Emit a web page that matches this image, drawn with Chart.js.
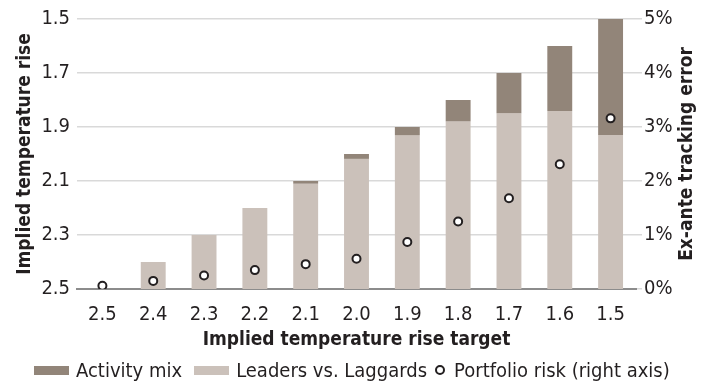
<!DOCTYPE html>
<html><head><meta charset="utf-8">
<script src="https://cdn.jsdelivr.net/npm/chart.js@4/dist/chart.umd.min.js"></script>
<style>
html,body{margin:0;padding:0;background:#fff;}
#wrap{position:relative;width:711px;height:383px;overflow:hidden;}
#legend{position:absolute;left:34px;top:357px;height:26px;display:flex;align-items:center;font-family:'DejaVu Sans Condensed',sans-serif;font-size:20px;color:#231f20;white-space:nowrap;}
.item{display:flex;align-items:center;margin-right:12px;}
.sw{display:inline-block;width:35px;height:9px;margin-right:7px;}
.dot{display:inline-block;width:6px;height:6px;border:2px solid #231f20;border-radius:50%;background:#fff;margin-right:9px;margin-left:-4px;}
</style></head><body>
<div id="wrap"><canvas id="c" width="711" height="383"></canvas><div id="legend"></div></div>
<script>
const categories = ['2.5','2.4','2.3','2.2','2.1','2.0','1.9','1.8','1.7','1.6','1.5'];
const leadersVsLaggards = [null, 2.40, 2.30, 2.20, 2.11, 2.018, 1.93, 1.879, 1.849, 1.841, 1.93];
const activityMix = [null, null, null, null, 2.10, 2.00, 1.90, 1.80, 1.70, 1.60, 1.50];
const portfolioRisk = [0.06, 0.15, 0.25, 0.35, 0.46, 0.56, 0.87, 1.25, 1.68, 2.31, 3.16];
const leftTicks = [1.5, 1.7, 1.9, 2.1, 2.3, 2.5];
const rightTicks = [0, 1, 2, 3, 4, 5];
const baseLevel = 2.5;
const seriesNames = ['Activity mix', 'Leaders vs. Laggards', 'Portfolio risk (right axis)'];
const axisTitles = {x: 'Implied temperature rise target', y: 'Implied temperature rise', y1: 'Ex-ante tracking error'};

const FONT = "'DejaVu Sans Condensed',sans-serif";
const TXT = '#231f20';
const DARK = '#928579';
const LIGHT = '#cbc1ba';
const GRID = '#d9d9d9';
const AXIS = '#8c8c8c';

const leadersData = leadersVsLaggards.map(v => v == null ? null : [baseLevel, v]);
const activityData = activityMix.map((v, i) => v == null ? null : [leadersVsLaggards[i], v]);

const rightTitle = {
  id: 'rightTitle',
  afterDraw(chart) {
    const ctx = chart.ctx, a = chart.chartArea;
    ctx.save();
    ctx.translate(687, (a.top + a.bottom) / 2);
    ctx.rotate(-Math.PI / 2);
    ctx.font = "bold 19px " + FONT;
    ctx.fillStyle = TXT;
    ctx.textAlign = 'center';
    ctx.textBaseline = 'middle';
    ctx.fillText(axisTitles.y1, 0, 0);
    ctx.restore();
  }
};

new Chart(document.getElementById('c'), {
  data: {
    labels: categories,
    datasets: [
      {type: 'line', label: seriesNames[2], data: portfolioRisk, yAxisID: 'y1', showLine: false,
       pointRadius: 4, pointBorderWidth: 2, pointBackgroundColor: '#fff', pointBorderColor: TXT, order: 0},
      {type: 'bar', label: seriesNames[0], data: activityData, yAxisID: 'y', backgroundColor: DARK,
       grouped: false, barPercentage: 0.49, categoryPercentage: 1, order: 1},
      {type: 'bar', label: seriesNames[1], data: leadersData, yAxisID: 'y', backgroundColor: LIGHT,
       grouped: false, barPercentage: 0.49, categoryPercentage: 1, order: 2}
    ]
  },
  options: {
    responsive: false, animation: false,
    layout: {padding: {top: 17, bottom: 30, left: 0, right: 0}},
    plugins: {legend: {display: false}, tooltip: {enabled: false}},
    scales: {
      x: {
        grid: {display: false},
        border: {display: true, color: AXIS, width: 2},
        ticks: {color: TXT, font: {family: FONT, size: 20}, padding: 6},
        title: {display: true, text: axisTitles.x, color: TXT, font: {family: FONT, size: 19, weight: 'bold'}, padding: {top: 0, bottom: 2}},
        afterFit: s => { s.height = 64; }
      },
      y: {
        position: 'left', reverse: true, min: 1.5, max: 2.5,
        afterBuildTicks: s => { s.ticks = leftTicks.map(v => ({value: v})); },
        grid: {color: GRID, lineWidth: 1.5, drawTicks: false},
        border: {display: false},
        ticks: {color: TXT, font: {family: FONT, size: 20}, padding: 7, callback: v => v.toFixed(1)},
        title: {display: true, text: axisTitles.y, color: TXT, font: {family: FONT, size: 19, weight: 'bold'}, padding: {top: 14, bottom: 0}},
        afterFit: s => { s.width = 77; }
      },
      y1: {
        position: 'right', min: 0, max: 5,
        afterBuildTicks: s => { s.ticks = rightTicks.map(v => ({value: v})); },
        grid: {drawOnChartArea: false, drawTicks: true, tickLength: 6, color: GRID, lineWidth: 1.5},
        border: {display: false},
        ticks: {color: TXT, font: {family: FONT, size: 20}, padding: 2, callback: v => v + '%'},
        afterFit: s => { s.width = 75; }
      }
    }
  },
  plugins: [rightTitle]
});

const lg = document.getElementById('legend');
const mk = (html) => { const d = document.createElement('div'); d.className = 'item'; d.innerHTML = html; lg.appendChild(d); };
mk('<span class="sw" style="background:' + DARK + '"></span><span>' + seriesNames[0] + '</span>');
mk('<span class="sw" style="background:' + LIGHT + '"></span><span>' + seriesNames[1] + '</span>');
mk('<span class="dot"></span><span>' + seriesNames[2] + '</span>');
</script>
</body></html>
